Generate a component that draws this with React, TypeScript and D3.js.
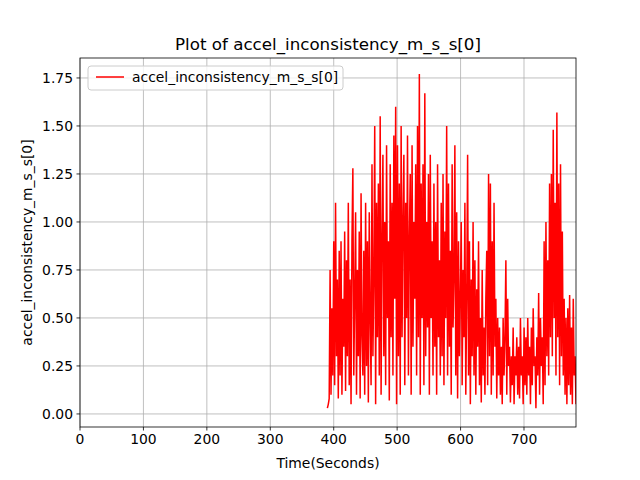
import React from "react";
import * as d3 from "d3";

const startTime = 390;
const endTime = 782;
const accelValues: number[] = [
0.03,0.05,0.08,0.75,0.1,0.55,0.2,
0.9,0.15,1.1,0.3,0.7,0.08,0.85,
0.2,0.9,0.1,0.6,0.35,0.95,0.12,
0.8,0.3,1.1,0.15,0.7,0.05,0.9,
1.28,0.2,0.6,1.05,0.1,0.75,0.3,
0.95,0.08,1.15,0.4,0.2,0.85,0.1,
1.1,0.25,0.9,0.06,1.05,0.5,0.15,
1.3,0.3,0.7,1.5,0.05,1.1,0.4,
1.2,0.2,1.55,0.1,0.9,1.35,0.3,
1.0,0.15,1.4,0.5,0.9,0.07,1.3,
0.4,1.1,0.2,1.45,0.6,1.6,0.05,
1.4,0.3,1.2,0.1,1.5,0.4,1.0,
1.35,0.15,1.1,0.5,1.45,0.2,0.9,
1.25,0.1,1.4,0.35,1.0,0.6,1.3,
0.2,1.5,0.4,1.77,0.1,1.2,0.5,
1.3,0.15,1.67,0.3,1.0,0.45,1.25,
0.1,1.35,0.5,0.9,0.2,1.2,0.35,
1.0,0.1,1.3,0.4,0.8,0.2,1.1,
0.3,1.25,0.15,0.95,0.5,1.5,0.2,
1.2,0.35,0.85,0.1,1.3,0.45,0.7,
1.4,0.2,1.05,0.08,0.9,0.3,0.6,
1.0,0.15,0.75,0.4,1.1,0.1,0.6,
1.35,0.2,0.9,0.05,0.7,0.3,1.0,
0.2,0.8,0.1,0.65,0.35,0.9,0.15,
0.5,0.06,0.75,0.2,0.45,0.1,0.6,
0.85,0.15,1.25,0.3,1.2,0.1,0.9,
0.2,1.1,0.35,0.6,0.08,0.5,0.2,
0.45,0.1,0.35,0.05,0.5,0.2,0.4,
0.8,0.1,0.6,0.25,0.35,0.06,0.3,
0.15,0.45,0.05,0.3,0.2,0.4,0.1,
0.35,0.08,0.5,0.2,0.3,0.05,0.45,
0.15,0.4,0.1,0.5,0.2,0.35,0.05,
0.45,0.15,0.55,0.25,0.3,0.03,0.4,
0.2,0.63,0.1,0.5,0.25,0.4,0.05,
0.9,0.15,1.0,0.3,0.8,0.2,1.2,
0.4,1.25,0.3,1.48,0.5,1.1,0.2,
1.57,0.4,1.2,0.15,1.3,0.3,0.95,
0.2,0.6,0.1,0.5,0.05,0.55,0.15,
0.62,0.1,0.45,0.05,0.6,0.2,0.3,0.05,
];
const xTicks = [0, 100, 200, 300, 400, 500, 600, 700];
const yTicks = [0, 0.25, 0.5, 0.75, 1.0, 1.25, 1.5, 1.75];
const seriesName = "accel_inconsistency_m_s_s[0]";

export default function App() {
  const L = 80, R = 576, T = 58, B = 427;
  const x = d3.scaleLinear().domain([0, 782]).range([L, R]);
  const y = d3.scaleLinear().domain([-0.068, 1.854]).range([B, T]);
  const step = (endTime - startTime) / (accelValues.length - 1);
  const pts: [number, number][] = accelValues.map((v, i) => [startTime + i * step, v]);
  const line = d3.line<[number, number]>().x(d => x(d[0])).y(d => y(d[1]));
  const font = "DejaVu Sans, sans-serif";
  return (
    <svg width={640} height={480} style={{ position: "absolute", left: 0, top: 0, background: "#fff" }} fontFamily={font}>
      <defs><clipPath id="c"><rect x={L} y={T} width={R - L} height={B - T} /></clipPath></defs>
      {xTicks.map(t => <line key={"gx" + t} x1={x(t)} x2={x(t)} y1={T} y2={B} stroke="#b0b0b0" strokeWidth={0.8} />)}
      {yTicks.map(t => <line key={"gy" + t} x1={L} x2={R} y1={y(t)} y2={y(t)} stroke="#b0b0b0" strokeWidth={0.8} />)}
      <path d={line(pts) || ""} fill="none" stroke="red" strokeWidth={1.5} clipPath="url(#c)" />
      <rect x={L} y={T} width={R - L} height={B - T} fill="none" stroke="#000" strokeWidth={0.8} />
      {xTicks.map(t => (
        <g key={"tx" + t}>
          <line x1={x(t)} x2={x(t)} y1={B} y2={B + 3.5} stroke="#000" strokeWidth={0.8} />
          <text x={x(t)} y={B + 17} fontSize={13.9} textAnchor="middle">{t}</text>
        </g>
      ))}
      {yTicks.map(t => (
        <g key={"ty" + t}>
          <line x1={L - 3.5} x2={L} y1={y(t)} y2={y(t)} stroke="#000" strokeWidth={0.8} />
          <text x={L - 7} y={y(t) + 5} fontSize={13.9} textAnchor="end">{t.toFixed(2)}</text>
        </g>
      ))}
      <text x={(L + R) / 2} y={50} fontSize={16.7} textAnchor="middle">Plot of {seriesName}</text>
      <text x={(L + R) / 2} y={468} fontSize={13.9} textAnchor="middle">Time(Seconds)</text>
      <text transform={`translate(32,${(T + B) / 2}) rotate(-90)`} fontSize={13.9} textAnchor="middle">{seriesName}</text>
      <rect x={88} y={66} width={255} height={24} rx={3} fill="#fff" fillOpacity={0.8} stroke="#ccc" strokeWidth={1} />
      <line x1={96} x2={124} y1={77} y2={77} stroke="red" strokeWidth={1.5} />
      <text x={132} y={82} fontSize={13.9}>{seriesName}</text>
    </svg>
  );
}
